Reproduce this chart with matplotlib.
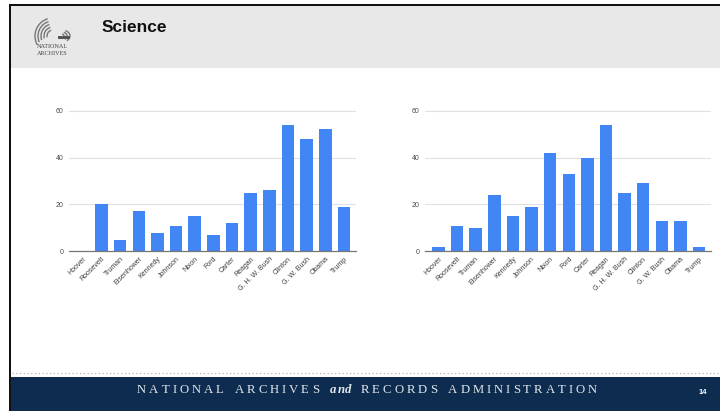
import matplotlib
matplotlib.use("Agg")
import matplotlib.pyplot as plt
from matplotlib.patches import Rectangle, Arc
from matplotlib.lines import Line2D

# Presidents shown along both axes
presidents = ["Hoover", "Roosevelt", "Truman", "Eisenhower", "Kennedy", "Johnson",
              "Nixon", "Ford", "Carter", "Reagan", "G. H. W. Bush", "Clinton",
              "G. W. Bush", "Obama", "Trump"]

# Left panel counts
left_values = [0, 20, 5, 17, 8, 11, 15, 7, 12, 25, 26, 54, 48, 52, 19]
# Right panel counts
right_values = [2, 11, 10, 24, 15, 19, 42, 33, 40, 54, 25, 29, 13, 13, 2]

y_ticks = [0, 20, 40, 60]

W, H = 720, 411
BAR_BLUE = "#4285F4"
NAVY = "#0d2c4f"
SANS = "Liberation Sans"
SERIF = "Liberation Serif"

fig = plt.figure(figsize=(W / 100, H / 100), dpi=100)
fig.patch.set_facecolor("white")


def fx(x):
    return x / W


def fy(y):
    return 1 - y / H


def rect_px(x0, y0, x1, y1, color):
    fig.patches.append(Rectangle((fx(x0), fy(y1)), fx(x1) - fx(x0), fy(y0) - fy(y1),
                                 transform=fig.transFigure, facecolor=color,
                                 edgecolor="none", zorder=0))


# Slide frame, header band and footer band
rect_px(9, 4, 720, 6, "#111111")
rect_px(9, 4, 11, 411, "#111111")
rect_px(11, 6, 720, 68, "#e8e8e8")
rect_px(11, 377, 720, 411, NAVY)
fig.lines.append(Line2D([fx(12), fx(720)], [fy(373), fy(373)], transform=fig.transFigure,
                        color="#aab4bf", lw=0.9, linestyle=(0, (1, 2))))

# Title
fig.text(fx(102), fy(27), "Science", fontsize=12.5, fontweight="bold", family=SANS,
         color="#111111", va="center", ha="left")

# Archive emblem (simplified eagle swirl) and wordmark
for i, r in enumerate([6, 9, 12, 15, 18]):
    fig.patches.append(Arc((fx(53), fy(36)), 2 * r / W, 2 * r / H, theta1=100, theta2=200 + i * 6,
                           transform=fig.transFigure, color="#777777", lw=1.0))
for i, r in enumerate([4, 7, 10]):
    fig.patches.append(Arc((fx(60), fy(36)), 2 * r / W, 1.3 * r / H, theta1=-50, theta2=60,
                           transform=fig.transFigure, color="#777777", lw=1.0))
fig.patches.append(Rectangle((fx(58), fy(39)), fx(12), 3 / H, transform=fig.transFigure,
                             facecolor="#555555", edgecolor="none"))
fig.text(fx(52), fy(47), "NATIONAL", fontsize=4.4, family=SERIF, color="#444444",
         ha="center", va="center")
fig.text(fx(52), fy(53.5), "ARCHIVES", fontsize=4.4, family=SERIF, color="#444444",
         ha="center", va="center")

# Page number
fig.text(fx(703), fy(392), "14", fontsize=5.5, fontweight="bold", family=SANS,
         color="white", ha="center", va="center")


def draw_chart(left_px, right_px, first_center_px, last_center_px, values):
    y0_px, y60_px = 251.3, 110.7
    per_unit = (y0_px - y60_px) / 60.0
    ytop = 60.3
    top_px = y0_px - ytop * per_unit
    ax = fig.add_axes([fx(left_px), fy(y0_px), fx(right_px) - fx(left_px),
                       fy(top_px) - fy(y0_px)])
    step = (last_center_px - first_center_px) / (len(values) - 1)
    ax.set_xlim(-(first_center_px - left_px) / step,
                len(values) - 1 + (right_px - last_center_px) / step)
    ax.set_ylim(0, ytop)
    ax.bar(range(len(values)), values, width=0.67, color=BAR_BLUE, zorder=2)
    ax.set_yticks(y_ticks)
    ax.set_yticklabels([str(t) for t in y_ticks], family=SANS, fontsize=5.0, color="#4a4a4a")
    ax.yaxis.grid(True, color="#e0e0e0", lw=0.8)
    ax.set_axisbelow(True)
    for side in ["top", "right", "left"]:
        ax.spines[side].set_visible(False)
    ax.spines["bottom"].set_color("#777777")
    ax.spines["bottom"].set_linewidth(0.9)
    ax.spines["bottom"].set_zorder(3)
    ax.set_xticks(range(len(values)))
    ax.set_xticklabels(presidents, rotation=45, ha="right", va="top", rotation_mode="anchor",
                       family=SANS, fontsize=5.0, color="#3c3c3c")
    ax.tick_params(axis="both", length=0)
    ax.tick_params(axis="x", pad=3)
    ax.tick_params(axis="y", pad=4)
    ax.set_facecolor("white")
    return ax


draw_chart(69, 356, 82.8, 344.0, left_values)
draw_chart(425, 711, 438.5, 699.0, right_values)

# Letter-spaced footer wordmark
pieces = [("NATIONAL ARCHIVES ", {"style": "normal", "weight": "normal"}),
          ("and", {"style": "italic", "weight": "bold"}),
          (" RECORDS ADMINISTRATION", {"style": "normal", "weight": "normal"})]
renderer = fig.canvas.get_renderer()
fsize = 9.2
space_px = 5.0
glyphs = []
for s, st in pieces:
    for ch in s:
        if ch == " ":
            glyphs.append((ch, st, space_px))
            continue
        t = fig.text(0, 0, ch, fontsize=fsize, family=SERIF, fontstyle=st["style"],
                     fontweight=st["weight"])
        w = t.get_window_extent(renderer).width
        t.remove()
        glyphs.append((ch, st, w))

start_px, end_px = 137, 603
natural = sum(g[2] for g in glyphs)
track = (end_px - start_px - natural) / (len(glyphs) - 1)
x = start_px
for ch, st, w in glyphs:
    if ch != " ":
        fig.text(fx(x), fy(390), ch, fontsize=fsize, family=SERIF, fontstyle=st["style"],
                 fontweight=st["weight"], color="#e2e7ed", ha="left", va="center")
    x += w + (track if st["style"] == "normal" else track * 0.3)

fig.savefig("out.png", dpi=100, facecolor=fig.get_facecolor())
